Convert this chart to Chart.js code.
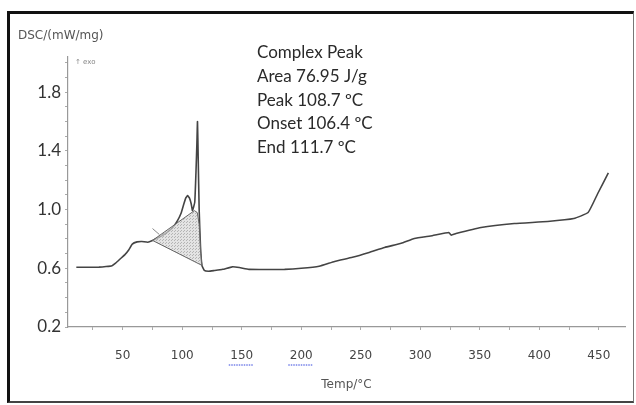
<!DOCTYPE html>
<html>
<head>
<meta charset="utf-8">
<script src="https://cdn.jsdelivr.net/npm/chart.js@4.4.1/dist/chart.umd.min.js"></script>
<style>
    html, body { margin: 0; padding: 0; background: #fff; }
    #wrap { position: relative; width: 636px; height: 405px; }
    #frame {
        position: absolute; left: 7px; top: 11px; width: 623px; height: 387px;
        border-left: 3px solid #111; border-top: 3px solid #111;
        border-right: 1px solid #777; border-bottom: 2px solid #444;
        pointer-events: none;
    }
    canvas { position: absolute; left: 0; top: 0; }
</style>
</head>
<body>
<div id="wrap">
    <canvas id="dscChart" width="636" height="405"></canvas>
    <div id="frame"></div>
</div>
<script>
// DSC curve (temperature in °C, signal in mW/mg)
const tempC = [11, 20, 30, 36, 41, 44, 48, 52, 55, 58, 62, 66, 71, 75, 80, 84, 88, 92, 96, 99,
    101, 103, 104.5, 106, 107.5, 108.6, 110.5, 111.5, 112.3, 112.8, 113.4, 114.2, 115.3, 116.5, 118.5,
    122, 127, 134, 142, 148, 156, 170, 186, 200, 215, 228, 243, 257, 270, 284, 295, 310, 324,
    326, 330, 351, 379, 407, 429, 441, 449, 458];
const dscVal = [0.607, 0.607, 0.608, 0.612, 0.618, 0.635, 0.665, 0.695, 0.725, 0.765, 0.78, 0.783, 0.778, 0.79, 0.81, 0.826, 0.85, 0.878, 0.925, 0.975,
    1.03, 1.08, 1.095, 1.08, 1.04, 0.993, 1.05, 1.25, 1.45, 1.6, 1.35, 1.0, 0.75, 0.62, 0.586,
    0.58, 0.585, 0.593, 0.61, 0.605, 0.593, 0.592, 0.593, 0.6, 0.614, 0.647, 0.675, 0.708, 0.742, 0.77, 0.803, 0.822, 0.844,
    0.826, 0.837, 0.878, 0.905, 0.919, 0.939, 0.98, 1.108, 1.25];

// hatched peak area (onset tangent / baseline)
const areaT = [75, 110.2, 112.6, 114.2, 115.5, 116.5, 75];
const areaV = [0.79, 0.993, 0.98, 0.9, 0.7, 0.62, 0.79];

// small tangent mark at the onset
const markT = [75, 80.8];
const markV = [0.871, 0.83];

const yLabelTicks = [0.2, 0.6, 1.0, 1.4, 1.8];
const xLabelTicks = [50, 100, 150, 200, 250, 300, 350, 400, 450];
const underlined = [150, 200];

const infoLines = ['Complex Peak', 'Area 76.95 J/g', 'Peak 108.7 ºC', 'Onset 106.4 ºC', 'End 111.7 ºC'];

function toPoints(xs, ys) {
    return xs.map((x, i) => ({ x: x, y: ys[i] }));
}

function makeHatch() {
    const c = document.createElement('canvas');
    c.width = 3; c.height = 3;
    const g = c.getContext('2d');
    g.fillStyle = 'rgba(215,215,215,0.7)';
    g.fillRect(0, 0, 3, 3);
    g.fillStyle = 'rgba(150,150,150,0.6)';
    g.fillRect(0, 0, 1, 1);
    g.fillRect(1, 2, 1, 1);
    return g.createPattern(c, 'repeat');
}

// texts drawn on the canvas: axis caption, exo marker, peak info, spell-check underlines
const textPlugin = {
    id: 'dscTexts',
    afterDraw(chart) {
        const ctx = chart.ctx;
        const xs = chart.scales.x;
        ctx.save();
        ctx.fillStyle = '#555';
        ctx.font = '12px "DejaVu Sans", sans-serif';
        ctx.textBaseline = 'middle';
        ctx.fillText('DSC/(mW/mg)', 18, 36);

        ctx.font = '7px "DejaVu Sans", sans-serif';
        ctx.fillStyle = '#888';
        ctx.fillText('↑ exo', 75, 62);

        ctx.font = '17px Lato, sans-serif';
        ctx.fillStyle = '#2a2a2a';
        infoLines.forEach((t, i) => ctx.fillText(t, 257, 53 + i * 23.6));

        ctx.strokeStyle = '#3344dd';
        ctx.lineWidth = 1;
        ctx.setLineDash([1.5, 1]);
        underlined.forEach(v => {
            const px = xs.getPixelForValue(v);
            ctx.beginPath();
            ctx.moveTo(px - 13, 365);
            ctx.lineTo(px + 11, 365);
            ctx.stroke();
        });
        ctx.restore();
    }
};

const ctx = document.getElementById('dscChart').getContext('2d');
const dscChart = new Chart(ctx, {
    type: 'line',
    data: {
        datasets: [
            {
                label: 'Area',
                data: toPoints(areaT, areaV),
                borderColor: '#666',
                borderWidth: 1,
                backgroundColor: makeHatch(),
                fill: 'shape',
                pointRadius: 0,
                tension: 0
            },
            {
                label: 'DSC',
                data: toPoints(tempC, dscVal),
                borderColor: '#444',
                borderWidth: 1.6,
                fill: false,
                pointRadius: 0,
                tension: 0.12
            },
            {
                label: 'Tangent',
                data: toPoints(markT, markV),
                borderColor: '#888',
                borderWidth: 1,
                fill: false,
                pointRadius: 0
            }
        ]
    },
    options: {
        responsive: false,
        animation: false,
        layout: { padding: { left: 0, top: 57, right: 11, bottom: 0 } },
        plugins: { legend: { display: false }, tooltip: { enabled: false } },
        scales: {
            x: {
                type: 'linear',
                min: 4,
                max: 472,
                afterBuildTicks: axis => {
                    const t = [];
                    for (let v = 25; v <= 450; v += 25) t.push({ value: v });
                    axis.ticks = t;
                },
                afterFit: scale => { scale.height = 78; },
                border: { color: '#999', width: 1.2 },
                grid: { drawOnChartArea: false, tickLength: 3, color: '#aaa' },
                ticks: {
                    autoSkip: false,
                    maxRotation: 0,
                    padding: 19,
                    color: '#444',
                    font: { family: '"DejaVu Sans", sans-serif', size: 12 },
                    callback: v => xLabelTicks.includes(v) ? String(v) : ''
                },
                title: {
                    display: true,
                    text: 'Temp/°C',
                    color: '#555',
                    font: { family: '"DejaVu Sans", sans-serif', size: 12 },
                    padding: { top: 0, bottom: 13 }
                }
            },
            y: {
                type: 'linear',
                min: 0.2,
                max: 2.04,
                afterBuildTicks: axis => {
                    const t = [];
                    for (let i = 2; i <= 20; i++) t.push({ value: i / 10 });
                    axis.ticks = t;
                },
                afterFit: scale => { scale.width = 68; },
                border: { color: '#999', width: 1.2 },
                grid: { drawOnChartArea: false, tickLength: 3, color: '#aaa' },
                ticks: {
                    autoSkip: false,
                    padding: 4,
                    color: '#333',
                    font: { family: 'Lato, sans-serif', size: 17 },
                    callback: v => yLabelTicks.some(l => Math.abs(l - v) < 1e-6) ? v.toFixed(1) : ''
                }
            }
        }
    },
    plugins: [textPlugin]
});
</script>
</body>
</html>
